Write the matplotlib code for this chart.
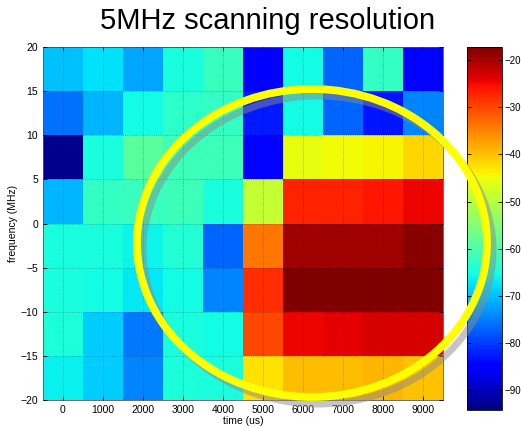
import numpy as np
import matplotlib
matplotlib.use("Agg")
import matplotlib.pyplot as plt
from matplotlib.patches import Ellipse

plt.rcParams['font.family'] = ['Liberation Sans', 'DejaVu Sans']

# Data
times = [0, 1000, 2000, 3000, 4000, 5000, 6000, 7000, 8000, 9000]   # time (us), cell centres
freq_edges = [-20, -15, -10, -5, 0, 5, 10, 15, 20]                  # frequency (MHz) band edges
# power (dB), rows from bottom (-20..-15) to top (15..20)
power = [
    [-66.5, -69.0, -74.5, -64.5, -65.0, -42.5, -39.5, -39.5, -39.0, -40.0],
    [-64.5, -69.0, -75.5, -65.0, -65.5, -30.0, -24.7, -24.0, -23.0, -23.0],
    [-65.0, -65.5, -67.0, -65.5, -74.5, -28.0, -17.5, -17.5, -17.5, -17.5],
    [-65.0, -65.0, -66.0, -64.0, -77.0, -34.0, -19.5, -19.5, -19.5, -18.0],
    [-71.0, -62.5, -62.0, -61.5, -65.0, -49.0, -27.0, -27.0, -26.0, -24.7],
    [-93.0, -65.0, -59.0, -61.5, -61.5, -84.5, -45.5, -44.7, -44.0, -41.6],
    [-76.0, -71.0, -65.5, -63.0, -62.5, -82.5, -65.5, -77.0, -83.0, -74.5],
    [-70.0, -67.5, -72.0, -65.0, -62.0, -85.0, -65.5, -77.0, -62.5, -84.5],
]
cbar_ticks = [-90, -80, -70, -60, -50, -40, -30, -20]
vmin, vmax = -94.2, -17.2

W, H = 521, 428
fig = plt.figure(figsize=(W / 100, H / 100), dpi=100)

ax = fig.add_axes([43 / W, 1 - 400 / H, 400 / W, 353 / H])
step = times[1] - times[0]
x_edges = [t - step / 2 for t in times] + [times[-1] + step / 2]
mesh = ax.pcolormesh(x_edges, freq_edges, np.array(power), cmap='jet',
                     vmin=vmin, vmax=vmax, shading='flat')
ax.set_xlim(x_edges[0], x_edges[-1])
ax.set_ylim(freq_edges[0], freq_edges[-1])
ax.set_xticks(times)
ax.set_yticks(freq_edges)
ax.tick_params(direction='in', labelsize=7.5, length=3, width=0.6, top=True, right=True)
ax.grid(True, linestyle=':', color='k', linewidth=0.6, alpha=0.35)
ax.set_axisbelow(False)
ax.set_xlabel('time (us)', fontsize=7.5, labelpad=1)
ax.set_ylabel('frequency (MHz)', fontsize=7.5, labelpad=2)
for s in ax.spines.values():
    s.set_linewidth(0.6)
    s.set_color('#555555')

cax = fig.add_axes([467 / W, 1 - 410 / H, 35 / W, 363 / H])
cb = fig.colorbar(mesh, cax=cax, ticks=cbar_ticks)
cb.ax.tick_params(direction='in', labelsize=7, length=3, width=0.6, left=True,
                  right=True, pad=1.5)
cb.outline.set_linewidth(0.6)

fig.text(268 / W, 1 - 21 / H, '5MHz scanning resolution', fontsize=21,
         ha='center', va='center')

# overlay in pixel coordinates for the highlight ellipse
ov = fig.add_axes([0, 0, 1, 1], facecolor='none')
ov.set_xlim(0, W)
ov.set_ylim(H, 0)
ov.axis('off')
ov.add_patch(Ellipse((318, 250), 350, 308, fill=False, edgecolor='#8a8a8a',
                     linewidth=5.0, alpha=0.5))
ov.add_patch(Ellipse((312, 243), 350, 308, fill=False, edgecolor='#ffff00',
                     linewidth=5.6))

fig.savefig('out.png', dpi=100)
